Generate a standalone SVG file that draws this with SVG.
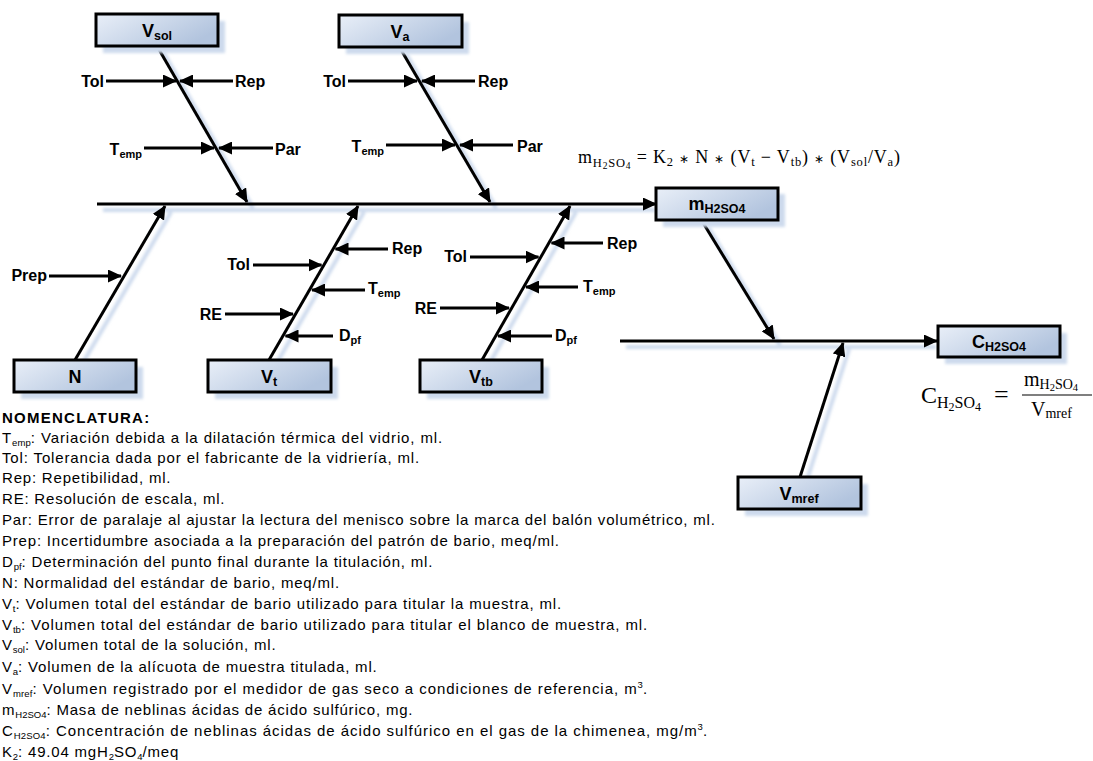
<svg xmlns="http://www.w3.org/2000/svg" width="1093" height="761" viewBox="0 0 1093 761">
<defs>
<linearGradient id="bf" x1="0" y1="0" x2="1" y2="0.5">
<stop offset="0" stop-color="#e9eff8"/>
<stop offset="1" stop-color="#b2c4de"/>
</linearGradient>
<filter id="blur" x="-20%" y="-20%" width="140%" height="140%"><feGaussianBlur stdDeviation="1.5"/></filter>
<marker id="ah" viewBox="0 0 14 13" refX="13" refY="6.5" markerWidth="14" markerHeight="13" markerUnits="userSpaceOnUse" orient="auto">
<path d="M0,0 L14,6.5 L0,13 Z" fill="#000"/>
</marker>
<style>
.box{fill:url(#bf);stroke:#000;stroke-width:3}
.sh{fill:#cddaed;filter:url(#blur)}
.shl{stroke:#cddaed;stroke-width:4;fill:none;filter:url(#blur)}
.ar{stroke:#000;stroke-width:3;fill:none;marker-end:url(#ah)}
.bt{font-family:"Liberation Sans",Arial,sans-serif;font-weight:bold;font-size:18px;fill:#000}
.bs{font-size:12.5px}
.lb{font-family:"Liberation Sans",Arial,sans-serif;font-weight:bold;font-size:16px;fill:#000}
.ls{font-size:11px}
.nm{font-family:"Liberation Sans",Arial,sans-serif;font-size:15px;letter-spacing:0.8px;fill:#000}
.ns{font-size:9.5px;letter-spacing:0}
.eq{font-family:"Liberation Serif","Times New Roman",serif;fill:#000}
.op{font-size:12px}
</style>
</defs>
<rect width="1093" height="761" fill="#fff"/>

<g id="shadows">
<path class="shl" d="M103,210 H655 M626,347 H936 M163,52 L253,208 M406,54 L496,208 M81,366 L171,212 M275,366 L364,212 M488,366 L576,212 M708,227 L780,345 M806,483 L849,349"/>
</g>

<g id="connectors">
<line class="ar" x1="97" y1="204" x2="656" y2="204"/>
<line class="ar" x1="620" y1="341" x2="937" y2="341"/>
<line class="ar" x1="157" y1="46" x2="247" y2="202"/>
<line class="ar" x1="400" y1="48" x2="490" y2="202"/>
<line class="ar" x1="75" y1="360" x2="165" y2="206"/>
<line class="ar" x1="269" y1="360" x2="358" y2="206"/>
<line class="ar" x1="482" y1="360" x2="570" y2="206"/>
<line class="ar" x1="702" y1="221" x2="774" y2="339"/>
<line class="ar" x1="800" y1="477" x2="843" y2="343"/>
<line class="ar" x1="106" y1="81" x2="176" y2="81"/>
<line class="ar" x1="233" y1="81" x2="180" y2="81"/>
<line class="ar" x1="144" y1="148" x2="214" y2="148"/>
<line class="ar" x1="273" y1="148" x2="219" y2="148"/>
<line class="ar" x1="348" y1="81" x2="417" y2="81"/>
<line class="ar" x1="475" y1="81" x2="422" y2="81"/>
<line class="ar" x1="386" y1="145" x2="455" y2="145"/>
<line class="ar" x1="513" y1="145" x2="460" y2="145"/>
<line class="ar" x1="49" y1="276" x2="121" y2="276"/>
<line class="ar" x1="388" y1="249" x2="335.5" y2="249"/>
<line class="ar" x1="253" y1="265" x2="321.5" y2="265"/>
<line class="ar" x1="365" y1="290" x2="312" y2="290"/>
<line class="ar" x1="225" y1="314" x2="293" y2="314"/>
<line class="ar" x1="333" y1="336" x2="285.5" y2="336"/>
<line class="ar" x1="603" y1="243" x2="551.5" y2="243"/>
<line class="ar" x1="470" y1="257" x2="538.5" y2="257"/>
<line class="ar" x1="578" y1="287" x2="526" y2="287"/>
<line class="ar" x1="440" y1="308" x2="509" y2="308"/>
<line class="ar" x1="552" y1="336" x2="498" y2="336"/>
</g>

<g id="labels">
<text class="lb" x="104" y="87" text-anchor="end">Tol</text>
<text class="lb" x="235" y="87">Rep</text>
<text class="lb" x="142" y="155" text-anchor="end">T<tspan class="ls" dy="3">emp</tspan></text>
<text class="lb" x="275" y="155">Par</text>
<text class="lb" x="346" y="87" text-anchor="end">Tol</text>
<text class="lb" x="478" y="87">Rep</text>
<text class="lb" x="384" y="152" text-anchor="end">T<tspan class="ls" dy="3">emp</tspan></text>
<text class="lb" x="517" y="152">Par</text>
<text class="lb" x="47" y="281" text-anchor="end">Prep</text>
<text class="lb" x="392" y="254">Rep</text>
<text class="lb" x="250" y="270" text-anchor="end">Tol</text>
<text class="lb" x="368" y="294">T<tspan class="ls" dy="3">emp</tspan></text>
<text class="lb" x="222" y="320" text-anchor="end">RE</text>
<text class="lb" x="339" y="341">D<tspan class="ls" dy="3">pf</tspan></text>
<text class="lb" x="607" y="249">Rep</text>
<text class="lb" x="467" y="262" text-anchor="end">Tol</text>
<text class="lb" x="583" y="292">T<tspan class="ls" dy="3">emp</tspan></text>
<text class="lb" x="437" y="314" text-anchor="end">RE</text>
<text class="lb" x="555" y="341">D<tspan class="ls" dy="3">pf</tspan></text>
</g>

<g id="node-vsol">
<rect class="sh" x="103" y="21" width="122" height="32"/>
<rect class="box" x="96" y="14" width="122" height="32"/>
<text class="bt" x="157" y="37" text-anchor="middle">V<tspan class="bs" dy="3">sol</tspan></text>
</g>
<g id="node-va">
<rect class="sh" x="346" y="22" width="123" height="32"/>
<rect class="box" x="339" y="15" width="123" height="32"/>
<text class="bt" x="400" y="38" text-anchor="middle">V<tspan class="bs" dy="3">a</tspan></text>
</g>
<g id="node-m">
<rect class="sh" x="663" y="194" width="122" height="33"/>
<rect class="box" x="656" y="188" width="122" height="32"/>
<text class="bt" x="717" y="210" text-anchor="middle">m<tspan class="bs" dy="3">H2SO4</tspan></text>
</g>
<g id="node-n">
<rect class="sh" x="21" y="367" width="122" height="32"/>
<rect class="box" x="14" y="360" width="122" height="32"/>
<text class="bt" x="75" y="383" text-anchor="middle">N</text>
</g>
<g id="node-vt">
<rect class="sh" x="215" y="367" width="123" height="32"/>
<rect class="box" x="208" y="360" width="123" height="32"/>
<text class="bt" x="269" y="383" text-anchor="middle">V<tspan class="bs" dy="3">t</tspan></text>
</g>
<g id="node-vtb">
<rect class="sh" x="427" y="367" width="122" height="32"/>
<rect class="box" x="420" y="360" width="122" height="32"/>
<text class="bt" x="481" y="383" text-anchor="middle">V<tspan class="bs" dy="3">tb</tspan></text>
</g>
<g id="node-c">
<rect class="sh" x="945" y="333" width="122" height="31"/>
<rect class="box" x="938" y="326" width="122" height="31"/>
<text class="bt" x="999" y="348" text-anchor="middle">C<tspan class="bs" dy="3">H2SO4</tspan></text>
</g>
<g id="node-vmref">
<rect class="sh" x="745" y="484" width="123" height="32"/>
<rect class="box" x="738" y="477" width="123" height="32"/>
<text class="bt" x="799" y="500" text-anchor="middle">V<tspan class="bs" dy="3">mref</tspan></text>
</g>

<g id="equations">
<text class="eq" x="578" y="163" font-size="18" textLength="322" lengthAdjust="spacing">m<tspan font-size="12.5" dy="4">H</tspan><tspan font-size="9.5" dy="2">2</tspan><tspan font-size="12.5" dy="-2">SO</tspan><tspan font-size="9.5" dy="2">4</tspan><tspan font-size="18" dy="-6"> =  K</tspan><tspan font-size="12.5" dy="3">2</tspan><tspan font-size="18" dy="-3"> </tspan><tspan class="op">∗</tspan><tspan font-size="18"> N </tspan><tspan class="op">∗</tspan><tspan font-size="18"> (V</tspan><tspan font-size="12.5" dy="3">t</tspan><tspan font-size="18" dy="-3"> − V</tspan><tspan font-size="12.5" dy="3">tb</tspan><tspan font-size="18" dy="-3">) </tspan><tspan class="op">∗</tspan><tspan font-size="18"> (V</tspan><tspan font-size="12.5" dy="3">sol</tspan><tspan font-size="18" dy="-3">/V</tspan><tspan font-size="12.5" dy="3">a</tspan><tspan font-size="18" dy="-3">)</tspan></text>
<text class="eq" x="921" y="403" font-size="24">C<tspan font-size="16" dy="5">H</tspan><tspan font-size="12" dy="3">2</tspan><tspan font-size="16" dy="-3">SO</tspan><tspan font-size="12" dy="3">4</tspan></text>
<text class="eq" x="994" y="403" font-size="26">=</text>
<text class="eq" x="1024" y="386" font-size="20">m<tspan font-size="14" dy="3">H</tspan><tspan font-size="10.5" dy="2">2</tspan><tspan font-size="14" dy="-2">SO</tspan><tspan font-size="10.5" dy="2">4</tspan></text>
<line x1="1022" y1="395" x2="1092" y2="395" stroke="#000" stroke-width="1.2"/>
<text class="eq" x="1031" y="416" font-size="20">V<tspan font-size="14" dy="2">mref</tspan></text>
</g>

<g id="nomenclature">
<text class="nm" x="2" y="423" font-weight="bold" textLength="148">NOMENCLATURA:</text>
<text class="nm" x="2" y="443" textLength="441">T<tspan class="ns" dy="3">emp</tspan><tspan dy="-3">: Variación debida a la dilatación térmica del vidrio, ml.</tspan></text>
<text class="nm" x="2" y="463" textLength="418">Tol: Tolerancia dada por el fabricante de la vidriería, ml.</text>
<text class="nm" x="2" y="483">Rep: Repetibilidad, ml.</text>
<text class="nm" x="2" y="504">RE: Resolución de escala, ml.</text>
<text class="nm" x="2" y="525">Par: Error de paralaje al ajustar la lectura del menisco sobre la marca del balón volumétrico, ml.</text>
<text class="nm" x="2" y="546">Prep: Incertidumbre asociada a la preparación del patrón de bario, meq/ml.</text>
<text class="nm" x="2" y="567">D<tspan class="ns" dy="3">pf</tspan><tspan dy="-3">: Determinación del punto final durante la titulación, ml.</tspan></text>
<text class="nm" x="2" y="588">N: Normalidad del estándar de bario, meq/ml.</text>
<text class="nm" x="2" y="609" textLength="560">V<tspan class="ns" dy="3">t</tspan><tspan dy="-3">: Volumen total del estándar de bario utilizado para titular la muestra, ml.</tspan></text>
<text class="nm" x="2" y="630" textLength="646">V<tspan class="ns" dy="3">tb</tspan><tspan dy="-3">: Volumen total del estándar de bario utilizado para titular el blanco de muestra, ml.</tspan></text>
<text class="nm" x="2" y="650">V<tspan class="ns" dy="3">sol</tspan><tspan dy="-3">: Volumen total de la solución, ml.</tspan></text>
<text class="nm" x="2" y="672">V<tspan class="ns" dy="3">a</tspan><tspan dy="-3">: Volumen de la alícuota de muestra titulada, ml.</tspan></text>
<text class="nm" x="2" y="694" textLength="646">V<tspan class="ns" dy="3">mref</tspan><tspan dy="-3">: Volumen registrado por el medidor de gas seco a condiciones de referencia, m</tspan><tspan class="ns" dy="-6">3</tspan><tspan dy="6">.</tspan></text>
<text class="nm" x="2" y="715">m<tspan class="ns" dy="3">H2SO4</tspan><tspan dy="-3">: Masa de neblinas ácidas de ácido sulfúrico, mg.</tspan></text>
<text class="nm" x="2" y="736" textLength="706">C<tspan class="ns" dy="3">H2SO4</tspan><tspan dy="-3">: Concentración de neblinas ácidas de ácido sulfúrico en el gas de la chimenea, mg/m</tspan><tspan class="ns" dy="-6">3</tspan><tspan dy="6">.</tspan></text>
<text class="nm" x="2" y="757">K<tspan class="ns" dy="3">2</tspan><tspan dy="-3">: 49.04 mgH</tspan><tspan class="ns" dy="3">2</tspan><tspan dy="-3">SO</tspan><tspan class="ns" dy="3">4</tspan><tspan dy="-3">/meq</tspan></text>
</g>
</svg>
